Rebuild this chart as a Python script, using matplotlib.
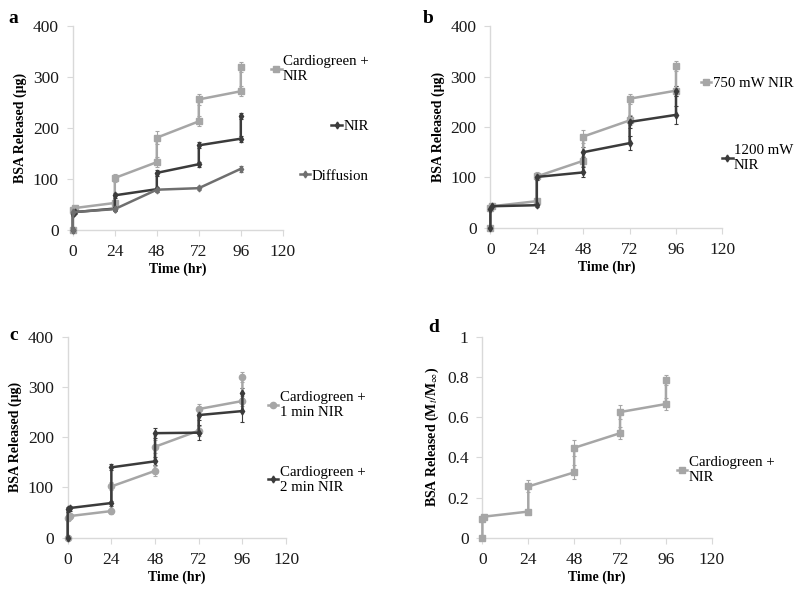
import matplotlib
matplotlib.use("Agg")
import matplotlib.pyplot as plt
import numpy as np

# --- Data ---
# each time point carries two readings: before and after the NIR pulse
time = [0, 0, 1, 24, 24, 48, 48, 72, 72, 96, 96]
time_diff = [0, 0, 24, 48, 72, 96]

cg_nir = [0, 39, 43, 53, 102, 133, 181, 213, 256, 272, 320]
cg_nir_err = [0, 6, 5, 5, 8, 10, 13, 10, 10, 10, 10]
nir_only = [0, 31, 35, 42, 68, 80, 112, 129, 166, 179, 224]
nir_only_err = [0, 4, 4, 4, 5, 5, 6, 5, 6, 6, 6]
diffusion = [0, 35, 41, 79, 82, 120]
diffusion_err = [0, 3, 3, 4, 4, 6]

mw1200 = [0, 37, 43, 45, 101, 110, 150, 168, 210, 224, 272]
mw1200_err = [0, 4, 4, 4, 6, 10, 10, 14, 12, 18, 10]

min2 = [0, 57, 59, 69, 140, 152, 208, 209, 244, 252, 288]
min2_err = [0, 5, 5, 5, 6, 8, 10, 15, 10, 22, 10]

frac_cg = [0, 0.095, 0.105, 0.13, 0.255, 0.325, 0.447, 0.52, 0.625, 0.665, 0.785]
frac_cg_err = [0, 0.01, 0.01, 0.01, 0.03, 0.035, 0.04, 0.03, 0.035, 0.03, 0.025]

x_ticks = [0, 24, 48, 72, 96, 120]

LIGHT = "#a6a6a6"
DARK = "#3b3b3b"
MID = "#6f6f6f"
AXIS = "#d9d9d9"

plt.rcParams["font.family"] = ["Liberation Serif", "DejaVu Serif"]
plt.rcParams["mathtext.fontset"] = "stix"

fig = plt.figure(figsize=(8, 5.92), dpi=100)


def style_axes(ax, ymax, ystep):
    for side in ["top", "right"]:
        ax.spines[side].set_visible(False)
    for side in ["left", "bottom"]:
        ax.spines[side].set_color(AXIS)
        ax.spines[side].set_linewidth(1.0)
    ax.set_xlim(0, 120)
    ax.set_xticks(x_ticks)
    ax.set_ylim(0, ymax)
    ax.set_yticks(np.arange(0, ymax + ystep / 2, ystep))
    ax.tick_params(direction="out", length=4, color=AXIS, labelsize=12.5,
                   labelcolor="#1a1a1a")
    ax.tick_params(axis="y", pad=6)
    ax.tick_params(axis="x", pad=6)
    ax.set_xlabel("Time (hr)", fontsize=10, fontweight="bold", labelpad=2)
    ax.margins(0)


def series(ax, x, y, err, color, marker, ms, label):
    ax.errorbar(x, y, yerr=err, color=color, lw=1.8, marker=marker, ms=ms,
                elinewidth=0.8, capsize=1.5, capthick=0.8, ecolor=color,
                label=label, clip_on=False, zorder=3)


def add_legend(ax, anchor, spacing):
    handles, labels = ax.get_legend_handles_labels()
    # legend shows only line + marker, no error bars
    handles = [h[0] for h in handles]
    leg = ax.legend(handles, labels, loc="upper left", bbox_to_anchor=anchor,
                    bbox_transform=fig.transFigure, frameon=False, fontsize=10.7,
                    handlelength=0.7, handletextpad=0.1, labelspacing=spacing,
                    borderpad=0, borderaxespad=0)
    # put the marker beside the first line of a two-line label, like Excel
    for row in leg._legend_handle_box.get_children():
        row.align = "top"
    return leg


# a
ax_a = fig.add_axes([0.091, 0.6115, 0.2625, 0.3446])
series(ax_a, time, cg_nir, cg_nir_err, LIGHT, "s", 4.5, "Cardiogreen +\nNIR")
series(ax_a, time, nir_only, nir_only_err, DARK, "d", 3.5, "NIR")
series(ax_a, time_diff, diffusion, diffusion_err, MID, "d", 3.5, "Diffusion")
style_axes(ax_a, 400, 100)
ax_a.set_ylabel("BSA Released (μg)", fontsize=10, fontweight="bold", labelpad=4)
add_legend(ax_a, (0.339, 0.907), 2.45)

# b
ax_b = fig.add_axes([0.613, 0.615, 0.290, 0.341])
series(ax_b, time, cg_nir, cg_nir_err, LIGHT, "s", 4.5, "750 mW NIR")
series(ax_b, time, mw1200, mw1200_err, DARK, "d", 3.5, "1200 mW\nNIR")
style_axes(ax_b, 400, 100)
ax_b.set_ylabel("BSA Released (μg)", fontsize=10, fontweight="bold", labelpad=4)
add_legend(ax_b, (0.876, 0.871), 3.65)

# c
ax_c = fig.add_axes([0.0846, 0.0917, 0.273, 0.3396])
series(ax_c, time, cg_nir, cg_nir_err, LIGHT, "o", 4.5, "Cardiogreen +\n1 min NIR")
series(ax_c, time, min2, min2_err, DARK, "d", 3.5, "Cardiogreen +\n2 min NIR")
style_axes(ax_c, 400, 100)
ax_c.set_ylabel("BSA Released (μg)", fontsize=10, fontweight="bold", labelpad=4)
add_legend(ax_c, (0.335, 0.340), 3.15)

# d
ax_d = fig.add_axes([0.603, 0.0917, 0.2868, 0.3396])
series(ax_d, time, frac_cg, frac_cg_err, LIGHT, "s", 4.5, "Cardiogreen +\nNIR")
style_axes(ax_d, 1, 0.2)
ax_d.set_yticklabels(["0", "0.2", "0.4", "0.6", "0.8", "1"])
ax_d.set_ylabel(r"BSA Released (M$_t$/M$_\infty$)", fontsize=10,
                fontweight="bold", labelpad=4)
add_legend(ax_d, (0.846, 0.229), 1.0)

# panel letters
for letter, (px, py) in zip("abcd", [(0.010, 0.968), (0.529, 0.968),
                                     (0.012, 0.434), (0.535, 0.447)]):
    fig.text(px, py, letter, fontsize=14, fontweight="bold", va="center")

fig.savefig("out.png", dpi=100)
